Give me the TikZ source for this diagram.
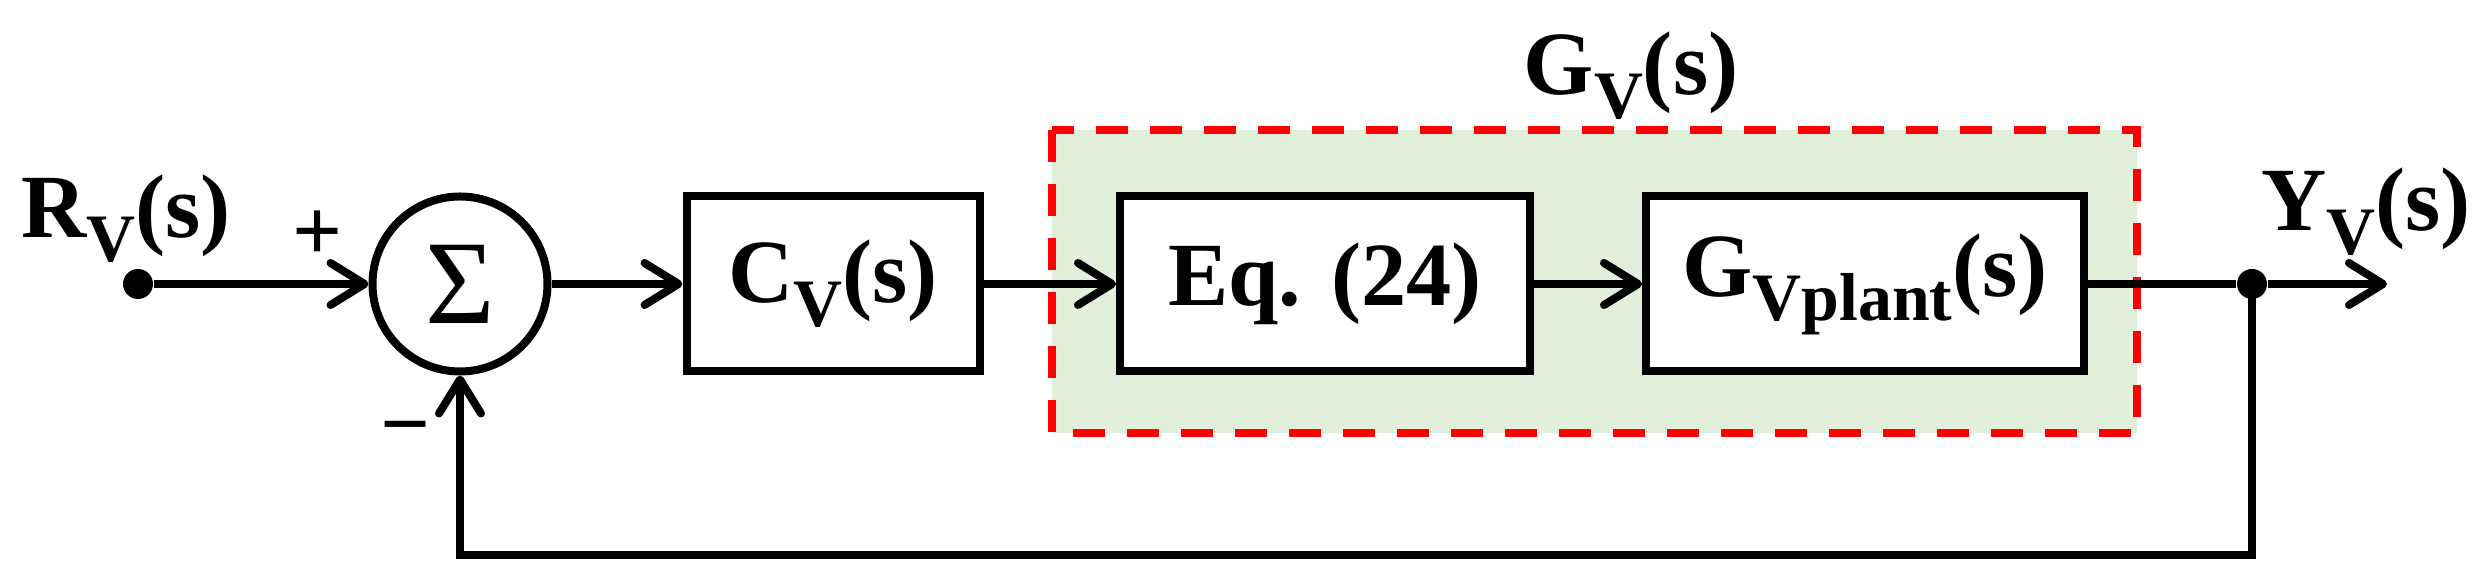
\documentclass[tikz,border=0pt]{standalone}
\usepackage{fontspec}
\setmainfont{Liberation Serif}
\usepackage{xcolor}
\usetikzlibrary{arrows.meta,positioning}
\definecolor{dashred}{HTML}{FF0000}
\definecolor{plantgreen}{HTML}{E2EFDA}
\newcommand{\lowsub}[1]{\raisebox{-2.4mm}{\fontsize{19.3}{20}\selectfont #1}}
\tikzset{
  block/.style={rectangle,draw=black,line width=0.8mm,fill=white,minimum height=17.5mm,
    inner sep=0pt,font=\fontsize{25.7}{28}\selectfont\bfseries},
  sumnode/.style={circle,draw=black,line width=0.8mm,fill=white,minimum size=17.5mm,
    inner sep=0pt,font=\fontsize{34}{36}\selectfont},
  signal/.style={inner sep=0pt,font=\fontsize{25.7}{28}\selectfont\bfseries},
  sign/.style={inner sep=0pt,font=\fontsize{25}{27}\selectfont\bfseries},
  arrow/.style={-{Straight Barb[length=3.4mm,width=4.2mm,round]},line width=0.8mm},
  wire/.style={line width=0.8mm},
  dot/.style={circle,fill=black,inner sep=0pt,minimum size=3mm},
  group/.style={draw=dashred,line width=0.85mm,dash pattern=on 3.2mm off 2.2mm,fill=plantgreen}
}
\begin{document}
\begin{tikzpicture}[x=0.1mm,y=0.1mm]
\useasboundingbox (0,0) rectangle (2483,581);
% plant group
\draw[group] (1052,451) rectangle (2137,148);
\node[signal,anchor=base] (gv) at (1631,486) {G\lowsub{V}(s)};
% loop
\node[dot] (in) at (138,297) {};
\node[sumnode] (sum) at (460,297) {Σ};
\node[block,minimum width=29.3mm] (cv) at (833,297) {C\lowsub{V}(s)};
\node[block,minimum width=41mm] (eq) at (1325,297) {Eq. (24)};
\node[block,minimum width=43.8mm] (gp) at (1865,297) {G\lowsub{Vplant}(s)};
\node[dot] (out) at (2252,297) {};
\coordinate (end) at (2387,297);
\coordinate (fbr) at (2252,26);
\node[signal,anchor=base] (rv) at (126,343) {R\lowsub{V}(s)};
\node[signal,anchor=base] (yv) at (2366,350) {Y\lowsub{V}(s)};
\node[sign] (plus) at (318,345) {+};
\node[sign] (minus) at (406,144) {−};
\draw[arrow] (in) -- (sum);
\draw[arrow] (sum) -- (cv);
\draw[arrow] (cv) -- (eq);
\draw[arrow] (eq) -- (gp);
\draw[wire] (gp) -- (out);
\draw[arrow] (out) -- (end);
\draw[arrow] (out.center) -- (fbr) -| (sum);
\end{tikzpicture}
\end{document}
